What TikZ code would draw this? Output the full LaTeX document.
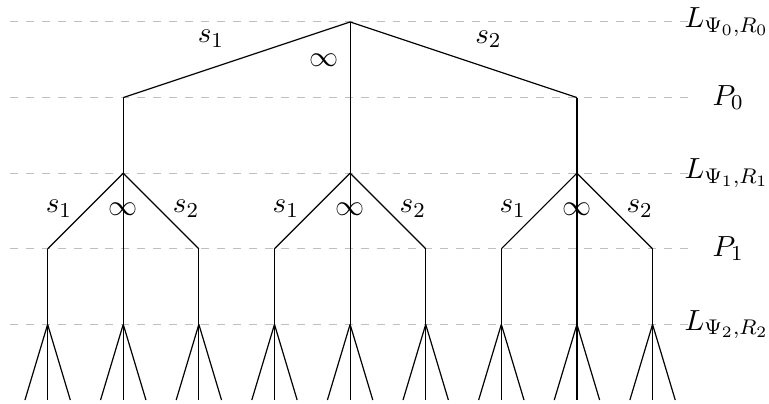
\documentclass[tikz,border=0pt,11pt]{standalone}
\begin{document}
\begin{tikzpicture}[
  level/.style={gray!50, dashed},
  edge/.style={black, line width=0.45pt},
  pt/.style={coordinate}
]
\useasboundingbox (-4.63,-5.04) rectangle (5.54,0.29);
% level labels
\node (L0) at (4.98,0) {$L_{\Psi_0,R_0}$};
\node (Q0) at (5,-1) {$P_0$};
\node (L1) at (4.98,-2) {$L_{\Psi_1,R_1}$};
\node (Q1) at (5,-3) {$P_1$};
\node (L2) at (4.98,-4) {$L_{\Psi_2,R_2}$};
% dashed level lines
\foreach \y/\n in {0/L0,-1/Q0,-2/L1,-3/Q1,-4/L2}{
  \coordinate (d\n) at (-4.5,\y);
  \draw[level] (d\n) -- (4.5,\y);
}
% tree
\node[pt] (r) at (0,0) {};
\foreach \i/\x in {1/-3,2/0,3/3}{
  \node[pt] (p\i) at (\x,-1) {};
  \node[pt] (l\i) at (\x,-2) {};
  \draw[edge] (r) -- (p\i);
  \draw[edge] (p\i) -- (l\i);
  \foreach \j/\dx in {1/-1,2/0,3/1}{
    \node[pt] (q\i\j) at (\x+\dx,-3) {};
    \node[pt] (m\i\j) at (\x+\dx,-4) {};
    \draw[edge] (l\i) -- (q\i\j);
    \draw[edge] (q\i\j) -- (m\i\j);
    \foreach \k/\ex in {1/-0.3,2/0,3/0.3}{
      \node[pt] (f\i\j\k) at (\x+\dx+\ex,-5) {};
      \draw[edge] (m\i\j) -- (f\i\j\k);
    }
  }
  \node (s1\i) at (\x-0.85,-2.47) {$s_1$};
  \node (inf\i) at (\x,-2.48) {$\infty$};
  \node (s2\i) at (\x+0.83,-2.47) {$s_2$};
}
\node (ts1) at (-1.84,-0.22) {$s_1$};
\node (tinf) at (-0.35,-0.50) {$\infty$};
\node (ts2) at (1.83,-0.23) {$s_2$};
\end{tikzpicture}
\end{document}
